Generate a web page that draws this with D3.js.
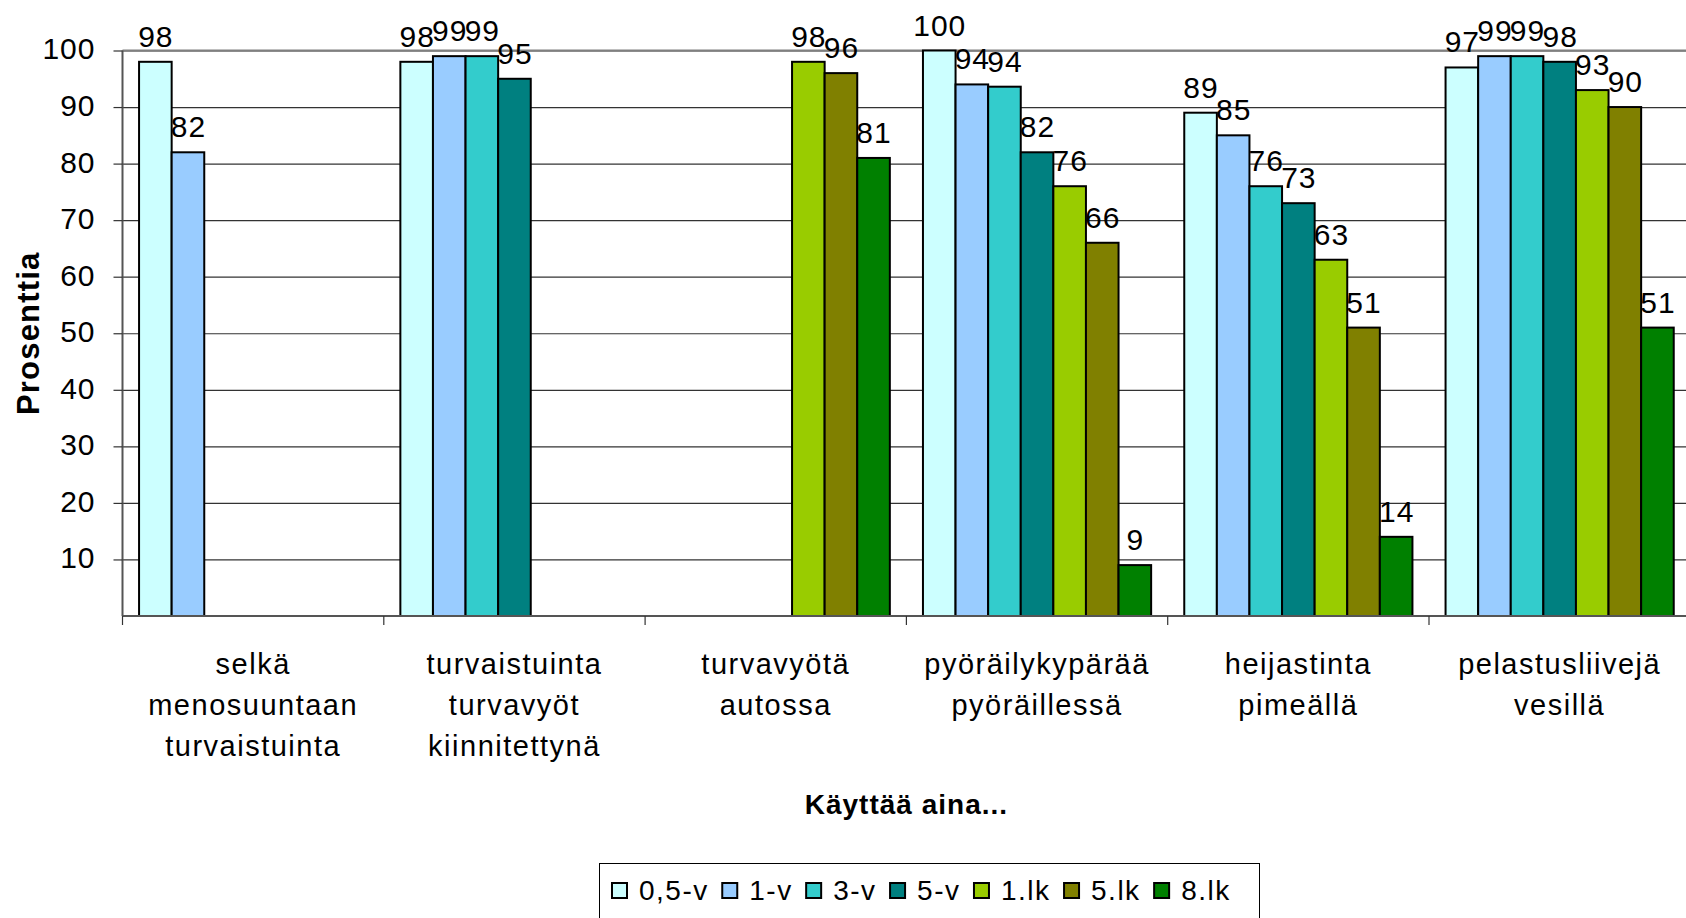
<!DOCTYPE html>
<html>
<head>
<meta charset="utf-8">
<script src="https://cdn.jsdelivr.net/npm/d3@7"></script>
<style>
  html, body { margin: 0; padding: 0; background: #fff; }
  svg { display: block; font-family: "Liberation Sans", Arial, sans-serif; }
  .lbl { font-size: 29px; letter-spacing: 1.5px; fill: #000; }
  .num { font-size: 30px; letter-spacing: 1px; fill: #000; }
  .leg { font-size: 28px; letter-spacing: 1.5px; fill: #000; }
  .ttl { font-size: 28px; font-weight: bold; letter-spacing: 1px; fill: #000; }
</style>
</head>
<body>
<div id="chart"></div>
<script>
// categories (each label split on lines as in the original)
var categories = [
  ["selkä", "menosuuntaan", "turvaistuinta"],
  ["turvaistuinta", "turvavyöt", "kiinnitettynä"],
  ["turvavyötä", "autossa"],
  ["pyöräilykypärää", "pyöräillessä"],
  ["heijastinta", "pimeällä"],
  ["pelastusliivejä", "vesillä"]
];
var series = ["0,5-v", "1-v", "3-v", "5-v", "1.lk", "5.lk", "8.lk"];
var colors = ["#CCFFFF", "#99CCFF", "#33CCCC", "#008080", "#99CC00", "#808000", "#008000"];

// values per series, one per category (null = no bar)
var v05 = [98, 98, null, 100, 89, 97];
var v1 = [82, 99, null, 94, 85, 99];
var v3 = [null, 99, null, 93.6, 76, 99];
var v5 = [null, 95, null, 82, 73, 98];
var lk1 = [null, null, 98, 76, 63, 93];
var lk5 = [null, null, 96, 66, 51, 90];
var lk8 = [null, null, 81, 9, 14, 51];
var values = [v05, v1, v3, v5, lk1, lk5, lk8];

var yTicks = [10, 20, 30, 40, 50, 60, 70, 80, 90, 100];

var W = 1686, H = 918;
var plotLeft = 122.5, plotTop = 50.5, plotBottom = 616, catW = 261.3;
var plotRight = plotLeft + catW * categories.length;

var svg = d3.select("#chart").append("svg")
  .attr("width", W)
  .attr("height", H);

var catKeys = categories.map(function(d, i) { return i; });

var x0 = d3.scaleBand()
  .domain(catKeys)
  .range([plotLeft, plotRight])
  .padding(0);

var x1 = d3.scaleBand()
  .domain(d3.range(series.length))
  .range([0, x0.bandwidth()])
  .paddingInner(0)
  .paddingOuter(0.508);

var y = d3.scaleLinear()
  .domain([0, 100])
  .range([plotBottom, plotTop]);

// gridlines
svg.append("g")
  .attr("class", "grid")
  .attr("transform", "translate(" + plotLeft + ",0)")
  .call(d3.axisLeft(y).tickValues(yTicks).tickSize(-(W - plotLeft)).tickFormat(""))
  .call(function(g) {
    g.select(".domain").remove();
    g.selectAll("line").attr("stroke", "#333").attr("stroke-width", 1.2);
  });

// top border of plot area
svg.append("line")
  .attr("x1", plotLeft).attr("x2", W)
  .attr("y1", y(100)).attr("y2", y(100))
  .attr("stroke", "#808080").attr("stroke-width", 2);

// bars
var flat = [];
categories.forEach(function(c, ci) {
  series.forEach(function(s, si) {
    var v = values[si][ci];
    if (v != null) flat.push({ cat: ci, s: si, v: v });
  });
});

svg.selectAll("rect.bar")
  .data(flat)
  .enter()
  .append("rect")
  .attr("class", "bar")
  .attr("x", function(d) { return x0(d.cat) + x1(d.s); })
  .attr("y", function(d) { return y(d.v); })
  .attr("width", x1.bandwidth())
  .attr("height", function(d) { return y(0) - y(d.v); })
  .attr("fill", function(d) { return colors[d.s]; })
  .attr("stroke", "#000")
  .attr("stroke-width", 2);

// value labels
svg.selectAll("text.val")
  .data(flat)
  .enter()
  .append("text")
  .attr("class", "num val")
  .attr("text-anchor", "middle")
  .attr("x", function(d) { return x0(d.cat) + x1(d.s) + x1.bandwidth() / 2 + 0.5; })
  .attr("y", function(d) { return y(d.v) - 15; })
  .text(function(d) { return Math.round(d.v); });

// y axis
var yAxis = svg.append("g")
  .attr("transform", "translate(" + plotLeft + ",0)")
  .call(d3.axisLeft(y).tickValues(yTicks).tickSize(9).tickPadding(18));
yAxis.attr("font-family", null).attr("font-size", null);
yAxis.select(".domain").attr("d", "M0," + plotTop + "V" + plotBottom).attr("stroke", "#555").attr("stroke-width", 2);
yAxis.selectAll(".tick line").attr("stroke", "#333").attr("stroke-width", 1.2);
yAxis.selectAll(".tick text")
  .attr("class", "num")
  .attr("dy", "0.28em");

// x axis
var xAxis = svg.append("g")
  .attr("transform", "translate(0," + plotBottom + ")");
xAxis.append("line")
  .attr("x1", plotLeft).attr("x2", W)
  .attr("stroke", "#555").attr("stroke-width", 2);
xAxis.selectAll("line.tk")
  .data(d3.range(categories.length + 1))
  .enter()
  .append("line")
  .attr("class", "tk")
  .attr("x1", function(d) { return plotLeft + d * x0.step(); })
  .attr("x2", function(d) { return plotLeft + d * x0.step(); })
  .attr("y1", 0).attr("y2", 9)
  .attr("stroke", "#333").attr("stroke-width", 1.2);

// category labels
var catLbl = svg.selectAll("text.cat")
  .data(categories)
  .enter()
  .append("text")
  .attr("class", "lbl cat")
  .attr("text-anchor", "middle")
  .attr("transform", function(d, i) { return "translate(" + (x0(i) + x0.bandwidth() / 2) + ",674)"; });
catLbl.selectAll("tspan")
  .data(function(d) { return d; })
  .enter()
  .append("tspan")
  .attr("x", 0)
  .attr("y", function(d, i) { return i * 41; })
  .text(function(d) { return d; });

// axis titles
svg.append("text")
  .attr("class", "ttl")
  .attr("text-anchor", "middle")
  .attr("x", (plotLeft + plotRight) / 2)
  .attr("y", 814)
  .text("Käyttää aina...");

svg.append("text")
  .attr("class", "ttl")
  .attr("text-anchor", "middle")
  .style("font-size", "31px")
  .style("letter-spacing", "1.2px")
  .attr("transform", "translate(39," + ((plotTop + plotBottom) / 2) + ") rotate(-90)")
  .text("Prosenttia");

// legend
var legend = svg.append("g").attr("class", "legend");
legend.append("rect")
  .attr("x", 599.5).attr("y", 863.5)
  .attr("width", 660).attr("height", 60)
  .attr("fill", "#fff")
  .attr("stroke", "#000").attr("stroke-width", 1);

var lx = 612;
series.forEach(function(s, i) {
  legend.append("rect")
    .attr("x", lx).attr("y", 883)
    .attr("width", 15).attr("height", 15)
    .attr("fill", colors[i])
    .attr("stroke", "#000").attr("stroke-width", 2);
  var t = legend.append("text")
    .attr("class", "leg")
    .attr("x", lx + 27)
    .attr("y", 900)
    .text(s);
  lx = lx + 27 + t.node().getComputedTextLength() + 13.5;
});
</script>
</body>
</html>
